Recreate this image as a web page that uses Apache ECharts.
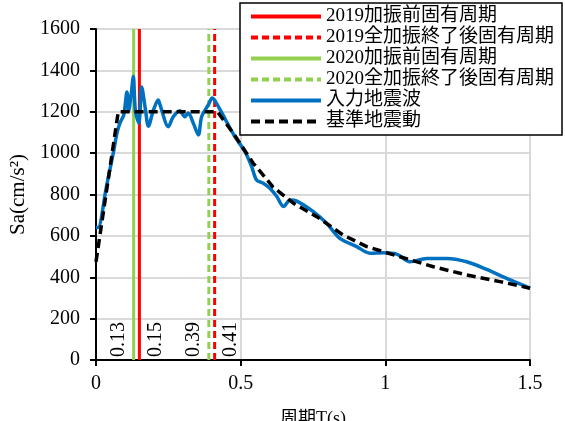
<!DOCTYPE html>
<html>
<head>
<meta charset="utf-8">
<script src="https://cdn.jsdelivr.net/npm/echarts@6/dist/echarts.min.js"></script>
<style>html,body{margin:0;padding:0;background:#fff;}#c{width:565px;height:421px;}</style>
</head>
<body>
<div id="c"></div>
<script>
// ---- data ----
const seriesNames = ['2019加振前固有周期', '2019全加振終了後固有周期', '2020加振前固有周期', '2020全加振終了後固有周期', '入力地震波', '基準地震動'];
const periods = [0.15, 0.41, 0.13, 0.39];
const periodLabels = ['0.15', '0.41', '0.13', '0.39'];
const inputT = [0, 0.007, 0.035, 0.061, 0.073, 0.084, 0.096, 0.107, 0.113, 0.122, 0.129, 0.136, 0.148, 0.158, 0.170, 0.181, 0.199, 0.215, 0.221, 0.25, 0.267, 0.29, 0.307, 0.319, 0.336, 0.354, 0.365, 0.388, 0.402, 0.423, 0.452, 0.48, 0.515, 0.538, 0.555, 0.578, 0.601, 0.625, 0.648, 0.671, 0.694, 0.751, 0.797, 0.843, 0.901, 0.947, 0.993, 1.039, 1.085, 1.143, 1.212, 1.281, 1.35, 1.419, 1.5];
const inputSa = [640, 640, 830, 1010, 1100, 1150, 1185, 1295, 1205, 1290, 1370, 1205, 1145, 1320, 1220, 1130, 1210, 1257, 1235, 1128, 1176, 1205, 1176, 1194, 1146, 1088, 1176, 1233, 1266, 1225, 1150, 1080, 1007, 935, 870, 854, 830, 790, 742, 773, 768, 717, 661, 588, 548, 516, 519, 512, 475, 491, 491, 475, 438, 395, 347];
const baseT = [0, 0.077, 0.42, 0.474, 0.543, 0.612, 0.681, 0.763, 0.854, 0.936, 1.051, 1.166, 1.281, 1.396, 1.5];
const baseSa = [475, 1200, 1200, 1097, 952, 836, 759, 693, 604, 548, 499, 451, 411, 379, 347];
const xTicks = [0, 0.5, 1, 1.5];
const yTicks = [0, 200, 400, 600, 800, 1000, 1200, 1400, 1600];

const FONT = "'Liberation Serif','DejaVu Serif','Noto Sans CJK JP',serif";
const RED = '#FF0000', GREEN = '#92D050', BLUE = '#0070C0';
const yMax = yTicks[yTicks.length - 1];

function vline(i, color, dashed) {
  return {
    name: seriesNames[i], type: 'line', symbol: 'none', showSymbol: false, z: 2,
    data: [[periods[i], 0], [periods[i], yMax]],
    lineStyle: {color: color, width: 3, type: dashed ? [7, 4] : 'solid'},
    itemStyle: {color: color}
  };
}

const chart = echarts.init(document.getElementById('c'));
chart.setOption({
  animation: false,
  backgroundColor: '#fff',
  grid: {left: 96, right: 35, top: 29, bottom: 61, show: true, borderColor: '#000', borderWidth: 2,
         backgroundColor: 'transparent', containLabel: false, outerBoundsMode: 'none'},
  legend: {
    orient: 'vertical', right: 3, top: 3,
    padding: [4, 8, 4, 9], itemGap: 2, itemWidth: 70, itemHeight: 18,
    borderColor: '#000', borderWidth: 1.5, backgroundColor: '#fff', borderRadius: 0,
    itemStyle: {opacity: 0},
    lineStyle: {width: 4},
    textStyle: {fontSize: 19, lineHeight: 18, fontFamily: FONT, color: '#000', padding: [0, 0, 0, 0]},
    data: seriesNames
  },
  xAxis: {
    type: 'value', min: xTicks[0], max: xTicks[xTicks.length - 1], interval: 0.5,
    name: '周期T(s)', nameLocation: 'middle', nameGap: 50,
    nameTextStyle: {fontSize: 18, fontFamily: FONT, color: '#000'},
    axisLine: {lineStyle: {color: '#000', width: 2}},
    axisTick: {show: true, inside: false, length: 6, lineStyle: {color: '#000', width: 2}},
    axisLabel: {fontSize: 20, fontFamily: FONT, color: '#000', margin: 14, formatter: v => String(v)},
    splitLine: {show: true, lineStyle: {color: '#d9d9d9', width: 2}}
  },
  yAxis: {
    type: 'value', min: yTicks[0], max: yMax, interval: 200,
    name: 'Sa(cm/s²)', nameLocation: 'middle', nameGap: 66,
    nameTextStyle: {fontSize: 21, fontFamily: FONT, color: '#000'},
    axisLine: {lineStyle: {color: '#000', width: 2}},
    axisTick: {show: true, inside: false, length: 6, lineStyle: {color: '#000', width: 2}},
    axisLabel: {fontSize: 20, fontFamily: FONT, color: '#000', margin: 16, formatter: v => String(v)},
    splitLine: {show: true, lineStyle: {color: '#d9d9d9', width: 2}}
  },
  series: [
    vline(0, RED, false),
    vline(1, RED, true),
    vline(2, GREEN, false),
    vline(3, GREEN, true),
    {
      name: seriesNames[4], type: 'line', symbol: 'none', showSymbol: false, z: 3, smooth: 0.3,
      data: inputT.map((t, i) => [t, inputSa[i]]),
      lineStyle: {color: BLUE, width: 3.5}, itemStyle: {color: BLUE}
    },
    {
      name: seriesNames[5], type: 'line', symbol: 'none', showSymbol: false, z: 4,
      data: baseT.map((t, i) => [t, baseSa[i]]),
      lineStyle: {color: '#000', width: 3.5, type: [9, 5]}, itemStyle: {color: '#000'}
    }
  ]
});

// rotated period labels placed via the chart's own scale
const sides = [1, 1, -1, -1]; // +1: right of line, -1: left of line
const graphics = periods.map((p, i) => {
  const pt = chart.convertToPixel({gridIndex: 0}, [p, 0]);
  return {
    type: 'text', rotation: Math.PI / 2, z: 10,
    x: pt[0] + (sides[i] > 0 ? 6 : -5), y: pt[1] - 3,
    style: {text: periodLabels[i], font: '20px ' + FONT, fill: '#000',
            align: 'left', verticalAlign: sides[i] > 0 ? 'top' : 'bottom'}
  };
});
chart.setOption({graphic: graphics});
</script>
</body>
</html>
